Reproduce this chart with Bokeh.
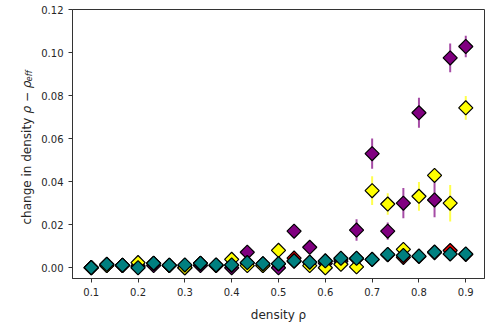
import numpy as np
from bokeh.plotting import figure
from bokeh.models import ColumnDataSource, FixedTicker, NumeralTickFormatter, Range1d, Label
from bokeh.embed import file_html
from bokeh.resources import INLINE

# ---- data ----
density = [0.1, 0.1333, 0.1667, 0.2, 0.2333, 0.2667, 0.3, 0.3333, 0.3667, 0.4,
           0.4333, 0.4667, 0.5, 0.5333, 0.5667, 0.6, 0.6333, 0.6667, 0.7, 0.7333,
           0.7667, 0.8, 0.8333, 0.8667, 0.9]

purple_vals = [0.000, 0.001, 0.001, 0.001, 0.001, 0.001, 0.000, 0.001, 0.001, 0.000,
               0.0072, 0.001, 0.000, 0.0170, 0.0095, 0.002, 0.003, 0.0175, 0.0530, 0.0170,
               0.0300, 0.0720, 0.0315, 0.0975, 0.1028]
purple_err = [0.0005, 0.0005, 0.0005, 0.0005, 0.0005, 0.0005, 0.0005, 0.0005, 0.0005, 0.0005,
              0.001, 0.0005, 0.0005, 0.0025, 0.001, 0.0005, 0.0005, 0.005, 0.007, 0.004,
              0.007, 0.007, 0.008, 0.0067, 0.005]

red_vals = [0.0001, 0.0015, 0.0012, 0.0005, 0.0020, 0.0012, 0.0010, 0.0020, 0.0012, 0.0012,
            0.0022, 0.0018, 0.0018, 0.0045, 0.0025, 0.0030, 0.0040, 0.0042, 0.0038, 0.0060,
            0.0048, 0.0052, 0.0070, 0.0080, 0.0062]
red_err = [0.0003] * 25

yellow_vals = [0.000, 0.001, 0.001, 0.0024, 0.002, 0.001, 0.000, 0.002, 0.001, 0.0039,
               0.001, 0.001, 0.0081, 0.003, 0.001, 0.000, 0.0016, 0.0004, 0.0358, 0.0296,
               0.0085, 0.0332, 0.0429, 0.0300, 0.0743]
yellow_err = [0.0005, 0.0005, 0.0005, 0.0005, 0.0005, 0.0005, 0.0005, 0.0005, 0.0005, 0.0005,
              0.0005, 0.0005, 0.003, 0.0005, 0.0005, 0.0005, 0.0005, 0.0005, 0.0067, 0.005,
              0.001, 0.0067, 0.003, 0.0085, 0.0055]

teal_vals = [0.0001, 0.0016, 0.0012, 0.0000, 0.0021, 0.0012, 0.0013, 0.0021, 0.0013, 0.0013,
             0.0024, 0.0019, 0.0019, 0.0032, 0.0026, 0.0032, 0.0044, 0.0044, 0.0039, 0.0062,
             0.0057, 0.0054, 0.0073, 0.0064, 0.0064]
teal_err = [0.0003] * 25

series = [
    ("purple", purple_vals, purple_err),
    ("red", red_vals, red_err),
    ("yellow", yellow_vals, yellow_err),
    ("teal", teal_vals, teal_err),
]

x_ticks = [0.1, 0.2, 0.3, 0.4, 0.5, 0.6, 0.7, 0.8, 0.9]
y_ticks = [0.00, 0.02, 0.04, 0.06, 0.08, 0.10, 0.12]

FONT = "DejaVu Sans"
TXT = "#262626"
X0, X1, Y0, Y1 = 0.06, 0.94, -0.005, 0.12

p = figure(width=485, height=329, output_backend="svg", toolbar_location=None,
           x_range=Range1d(X0, X1), y_range=Range1d(Y0, Y1),
           min_border_left=71, min_border_right=1, min_border_top=9, min_border_bottom=51)
p.background_fill_color = "white"
p.border_fill_color = "white"
p.grid.visible = False
p.outline_line_color = "#333333"
p.outline_line_width = 1

for color, vals, err in series:
    v = np.array(vals)
    e = np.array(err)
    src = ColumnDataSource(dict(x=density, y=vals, lo=v - e, hi=v + e))
    p.segment(x0="x", y0="lo", x1="x", y1="hi", source=src,
              line_color=color, line_width=2, line_alpha=0.7)
    p.scatter(x="x", y="y", source=src, marker="square", angle=np.pi / 4, size=10,
              fill_color=color, line_color="black", line_width=1.2)

for ax in (p.xaxis[0], p.yaxis[0]):
    ax.major_label_text_font = FONT
    ax.major_label_text_font_size = "10px"
    ax.major_label_text_color = TXT
    ax.axis_line_color = "#333333"
    ax.major_tick_line_color = "#333333"
    ax.major_tick_in = 0
    ax.major_tick_out = 4
    ax.minor_tick_line_color = None
    ax.axis_label_text_font = FONT
    ax.axis_label_text_font_size = "12px"
    ax.axis_label_text_font_style = "normal"
    ax.axis_label_text_color = TXT

p.xaxis[0].ticker = FixedTicker(ticks=x_ticks)
p.xaxis[0].formatter = NumeralTickFormatter(format="0.0")
p.xaxis[0].axis_label = "density ρ"
p.xaxis[0].axis_label_standoff = 9
p.yaxis[0].ticker = FixedTicker(ticks=y_ticks)
p.yaxis[0].formatter = NumeralTickFormatter(format="0.00")

# y-axis title (with math-like parts) drawn in the left side panel.
# Positions converted from pixel offsets into the frame's coordinate system.
FRAME_L, FRAME_T, FRAME_W, FRAME_H = 71, 9, 413, 269
def px_to_x(sx):
    return X0 + (sx - FRAME_L) * (X1 - X0) / FRAME_W
def px_to_y(sy):
    return Y1 - (sy - FRAME_T) * (Y1 - Y0) / FRAME_H

common = dict(angle=np.pi / 2, text_font=FONT, text_color=TXT,
              text_baseline="alphabetic", text_align="left")
p.add_layout(Label(x=px_to_x(25), y=px_to_y(224), text="change in density",
                   text_font_size="12px", **common), "left")
p.add_layout(Label(x=px_to_x(25), y=px_to_y(113), text="ρ − ρ",
                   text_font_size="12px", text_font_style="italic", **common), "left")
p.add_layout(Label(x=px_to_x(27.5), y=px_to_y(81), text="eff",
                   text_font_size="8.4px", text_font_style="italic", **common), "left")

open("out.html", "w").write(file_html(p, INLINE))
